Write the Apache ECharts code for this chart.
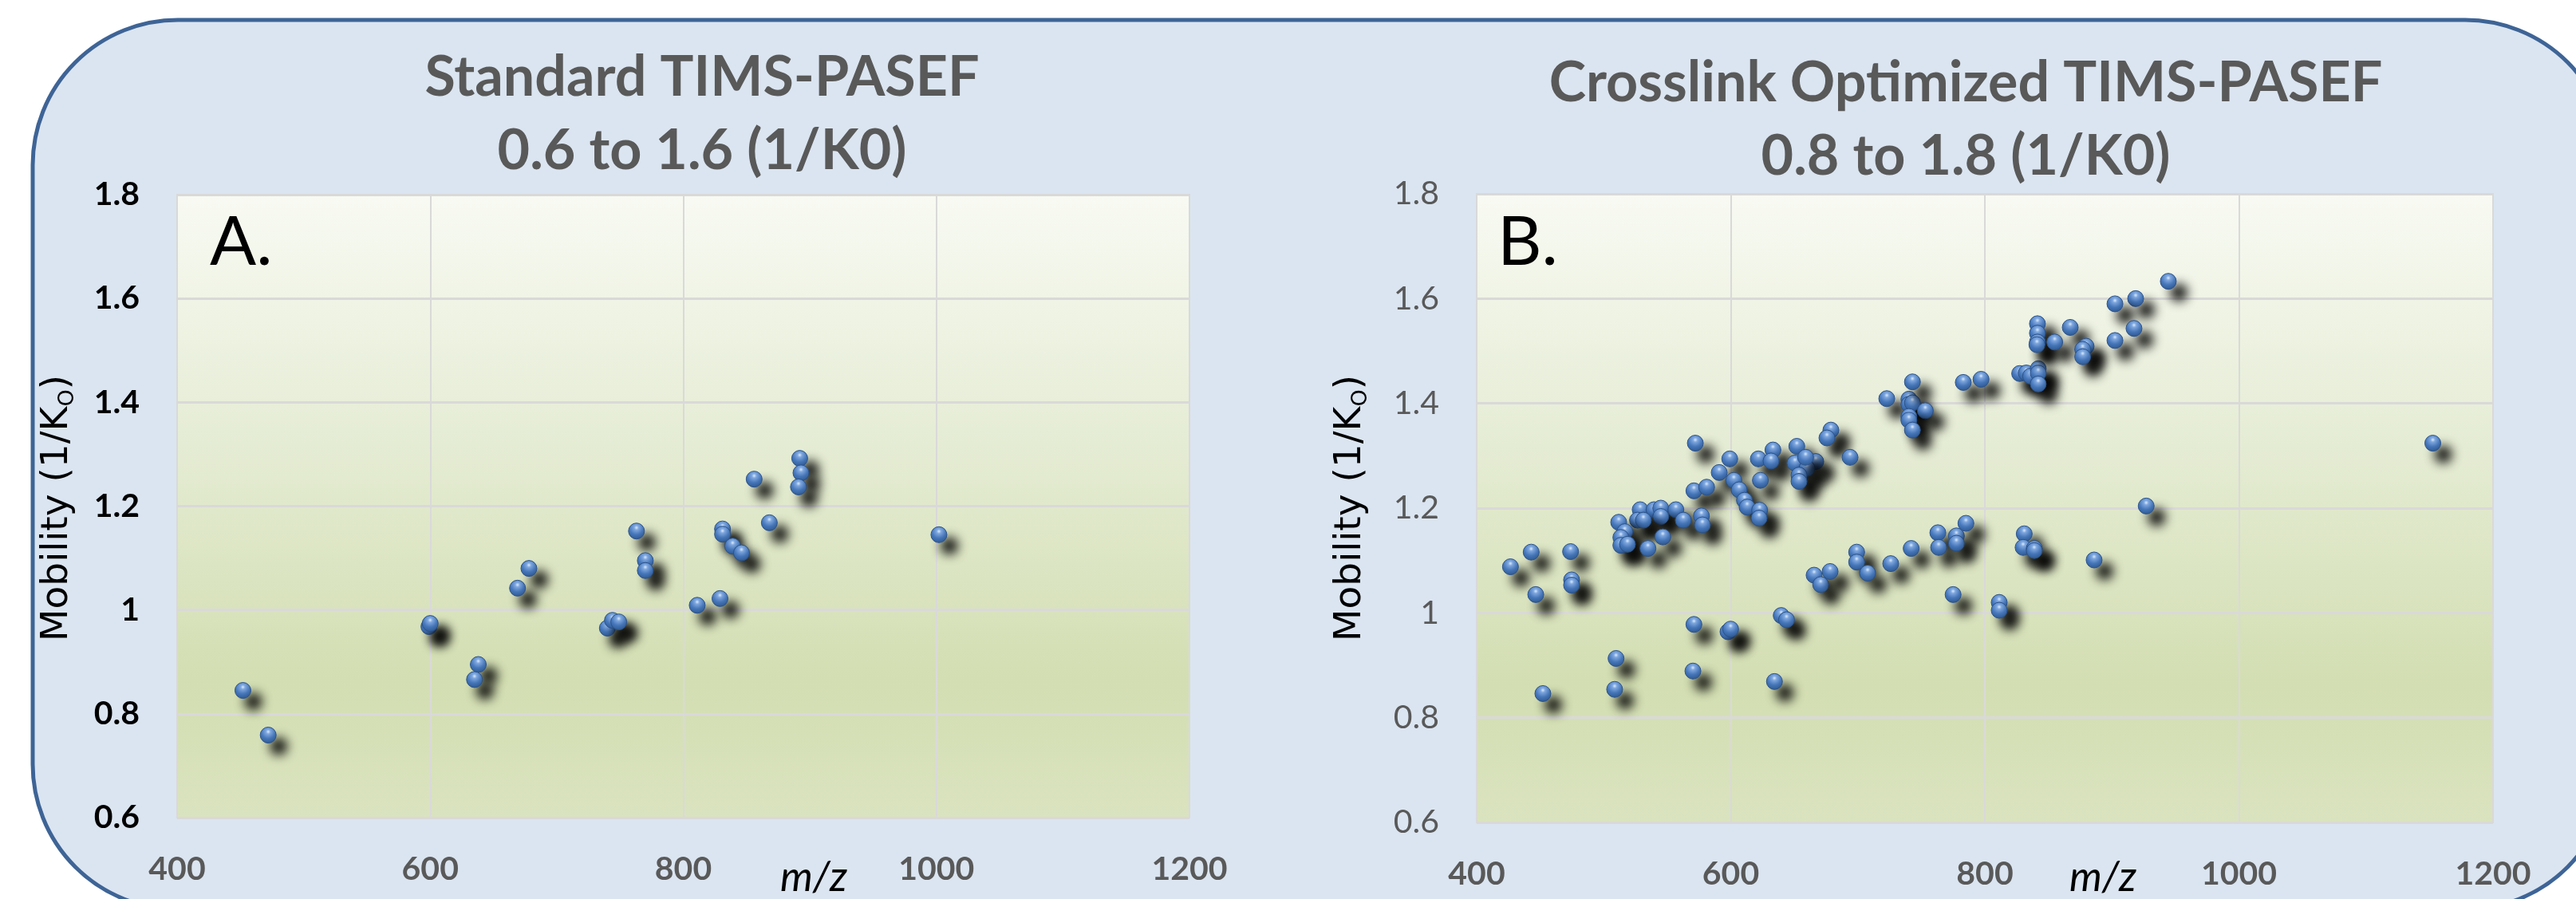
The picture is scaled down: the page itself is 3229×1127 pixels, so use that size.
<!DOCTYPE html>
<html>
<head>
<meta charset="utf-8">
<script src="https://cdn.jsdelivr.net/npm/echarts@6.0.0/dist/echarts.min.js"></script>
<style>
  html, body { margin: 0; padding: 0; background: #ffffff; }
  #chart { width: 3229px; height: 1127px; }
</style>
</head>
<body>
<div id="chart"></div>
<script>
// axis ticks
const mzTicks = [400, 600, 800, 1000, 1200]
const mobilityTicks = [0.6, 0.8, 1.0, 1.2, 1.4, 1.6, 1.8]

// A. Standard TIMS-PASEF
const standardMz = [452, 472, 599, 600, 638, 635, 669, 678, 740, 744, 749, 763, 770, 770,
  811, 829, 831, 831, 839, 846, 856, 868, 892, 893, 891, 1002]
const standardMobility = [0.845, 0.759, 0.968, 0.974, 0.895, 0.866, 1.042, 1.080, 0.965, 0.980, 0.977, 1.152, 1.095, 1.076,
  1.009, 1.022, 1.156, 1.146, 1.123, 1.110, 1.252, 1.168, 1.292, 1.264, 1.237, 1.145]

// B. Crosslink optimized TIMS-PASEF
const crosslinkMz = [
  572.1, 599.2, 590.9, 621.7, 633.2, 631.7, 652.0, 650.5, 666.9, 660.0, 653.7, 653.7, 658.9, 678.8, 675.7, 693.9,
  602.4, 623.3, 571.0, 581.0, 606.6, 610.8, 612.9, 622.7, 622.3, 528.7, 539.6, 544.9, 556.8, 544.9, 526.6, 531.2,
  562.6, 576.9, 577.7, 511.8, 516.6, 513.5, 513.5, 518.7, 546.5, 534.8, 442.9, 473.9, 426.6, 474.7, 474.7, 446.5,
  722.8, 740.2, 740.2, 743.0, 743.0, 753.1, 740.2, 740.2, 743.0, 783.0, 797.0, 827.4, 832.6, 836.0, 842.0, 842.0,
  842.0, 841.4, 841.4, 841.4, 841.0, 855.0, 867.2, 879.7, 877.0, 877.0, 944.4, 918.7, 902.4, 917.4, 902.4,
  571.0, 597.8, 599.9, 639.7, 643.9, 509.7, 570.2, 634.4, 452.1, 508.6, 665.6, 670.8, 678.2, 699.1, 699.1, 707.7,
  725.9, 742.0, 763.0, 763.6, 777.6, 777.6, 785.1, 775.0, 811.3, 811.3, 831.0, 830.1, 838.9, 838.9, 886.0, 927.0,
  1152.6]
const crosslinkMobility = [
  1.324, 1.294, 1.268, 1.294, 1.311, 1.290, 1.318, 1.286, 1.289, 1.276, 1.263, 1.251, 1.297, 1.349, 1.334, 1.297,
  1.253, 1.253, 1.233, 1.240, 1.235, 1.215, 1.202, 1.196, 1.181, 1.197, 1.197, 1.200, 1.197, 1.184, 1.177, 1.177,
  1.177, 1.185, 1.168, 1.173, 1.155, 1.144, 1.129, 1.131, 1.145, 1.123, 1.116, 1.117, 1.088, 1.063, 1.053, 1.035,
  1.409, 1.408, 1.398, 1.401, 1.441, 1.386, 1.375, 1.368, 1.349, 1.440, 1.446, 1.457, 1.458, 1.452, 1.466, 1.458,
  1.437, 1.552, 1.534, 1.517, 1.512, 1.517, 1.545, 1.509, 1.503, 1.489, 1.633, 1.600, 1.590, 1.543, 1.520,
  0.978, 0.964, 0.969, 0.995, 0.987, 0.913, 0.889, 0.869, 0.846, 0.854, 1.072, 1.054, 1.079, 1.116, 1.097, 1.076,
  1.094, 1.123, 1.153, 1.125, 1.147, 1.133, 1.171, 1.035, 1.020, 1.005, 1.151, 1.125, 1.123, 1.119, 1.101, 1.204,
  1.324]

const chartDom = document.getElementById('chart')
const chart = echarts.init(chartDom, null, { renderer: 'canvas' })

// 3D ball look of the Excel markers
const ballColor = {
  type: 'radial', x: 0.5, y: 0.3, r: 0.75,
  colorStops: [
    { offset: 0, color: '#dcebff' },
    { offset: 0.18, color: '#80a9e0' },
    { offset: 0.55, color: '#4879bd' },
    { offset: 0.85, color: '#3563a1' },
    { offset: 1, color: '#234573' }
  ]
}

const plotBackground = {
  type: 'linear', x: 0, y: 0, x2: 0, y2: 1,
  colorStops: [
    { offset: 0, color: '#f8faf3' },
    { offset: 0.4, color: '#e5ecd4' },
    { offset: 0.78, color: '#d3deb2' },
    { offset: 1, color: '#dae3bf' }
  ]
}

const makeGrid = (left, top, width, height) => ({
  left, top, width, height,
  show: true,
  backgroundColor: plotBackground,
  borderColor: '#d9d9d9',
  borderWidth: 2
})

const makeXAxis = (gridIndex) => ({
  gridIndex,
  type: 'value',
  min: mzTicks[0],
  max: mzTicks[mzTicks.length - 1],
  interval: mzTicks[1] - mzTicks[0],
  axisLine: { show: false },
  axisTick: { show: false },
  axisLabel: {
    margin: 44,
    fontFamily: 'Lato',
    fontWeight: 'bold',
    fontSize: 41,
    color: '#595959',
    formatter: v => String(v)
  },
  splitLine: { show: true, lineStyle: { color: '#d9d9d9', width: 2 } }
})

const makeYAxis = (gridIndex, labelColor, labelWeight) => ({
  gridIndex,
  type: 'value',
  min: mobilityTicks[0],
  max: mobilityTicks[mobilityTicks.length - 1],
  interval: 0.2,
  axisLine: { show: false },
  axisTick: { show: false },
  axisLabel: {
    margin: 47,
    fontFamily: 'Lato',
    fontWeight: labelWeight,
    fontSize: 41,
    color: labelColor,
    formatter: v => String(+v.toFixed(1))
  },
  splitLine: { show: true, lineStyle: { color: '#d9d9d9', width: 3 } }
})

const makeSeries = (name, idx, mz, mob) => ({
  name,
  type: 'scatter',
  xAxisIndex: idx,
  yAxisIndex: idx,
  symbol: 'circle',
  symbolSize: 20,
  data: mz.map((m, i) => [m, mob[i]]),
  itemStyle: {
    color: ballColor,
    borderColor: '#2b5289',
    borderWidth: 1,
    opacity: 1,
    shadowBlur: 14,
    shadowColor: 'rgba(0,0,0,1)',
    shadowOffsetX: 13,
    shadowOffsetY: 14
  }
})

const titleStyle = {
  fontFamily: 'Lato',
  fontWeight: 'bold',
  fontSize: 70,
  lineHeight: 92,
  color: '#595959'
}

const yNameStyle = (x) => ({
  type: 'text',
  x, y: 637,
  rotation: Math.PI / 2,
  z: 50,
  style: {
    text: 'Mobility (1/K{sub|O})',
    fontFamily: 'DejaVu Sans',
    fontSize: 47,
    lineHeight: 52,
    fill: '#000000',
    align: 'center',
    verticalAlign: 'middle',
    rich: {
      sub: { fontFamily: 'DejaVu Sans', fontSize: 27, verticalAlign: 'bottom', fill: '#000000' }
    }
  }
})

const mzName = (x) => ({
  type: 'text',
  x, y: 1100,
  z: 50,
  style: {
    text: 'm/z',
    fontFamily: 'Lato',
    fontStyle: 'italic',
    fontSize: 52,
    fill: '#000000',
    align: 'center',
    verticalAlign: 'middle'
  }
})

const panelLetter = (x, text) => ({
  type: 'text',
  x, y: 304,
  z: 50,
  style: {
    text,
    fontFamily: 'Lato',
    fontSize: 86,
    fill: '#000000',
    align: 'left',
    verticalAlign: 'middle'
  }
})

const option = {
  animation: false,
  backgroundColor: '#ffffff',
  title: [
    {
      text: 'Standard TIMS-PASEF\n0.6 to 1.6 (1/K0)',
      left: 880, top: 51, padding: 0,
      textAlign: 'center',
      textStyle: titleStyle
    },
    {
      text: 'Crosslink Optimized TIMS-PASEF\n0.8 to 1.8 (1/K0)',
      left: 2464, top: 58, padding: 0,
      textAlign: 'center',
      textStyle: titleStyle
    }
  ],
  graphic: [
    {
      type: 'rect',
      z: -10,
      shape: { x: 41, y: 25, width: 3231, height: 1115, r: 182 },
      style: { fill: '#dbe5f1', stroke: '#3e6496', lineWidth: 5 }
    },
    yNameStyle(72),
    yNameStyle(1693),
    mzName(1020),
    mzName(2636),
    panelLetter(263, 'A.'),
    panelLetter(1877, 'B.')
  ],
  grid: [
    makeGrid(222, 244, 1269, 781),
    makeGrid(1851, 243, 1274, 788)
  ],
  xAxis: [makeXAxis(0), makeXAxis(1)],
  yAxis: [makeYAxis(0, '#000000', 'bold'), makeYAxis(1, '#595959', 'normal')],
  series: [
    makeSeries('Standard TIMS-PASEF', 0, standardMz, standardMobility),
    makeSeries('Crosslink Optimized TIMS-PASEF', 1, crosslinkMz, crosslinkMobility)
  ]
}

chart.setOption(option)

window.addEventListener('resize', () => chart.resize())
</script>
</body>
</html>
